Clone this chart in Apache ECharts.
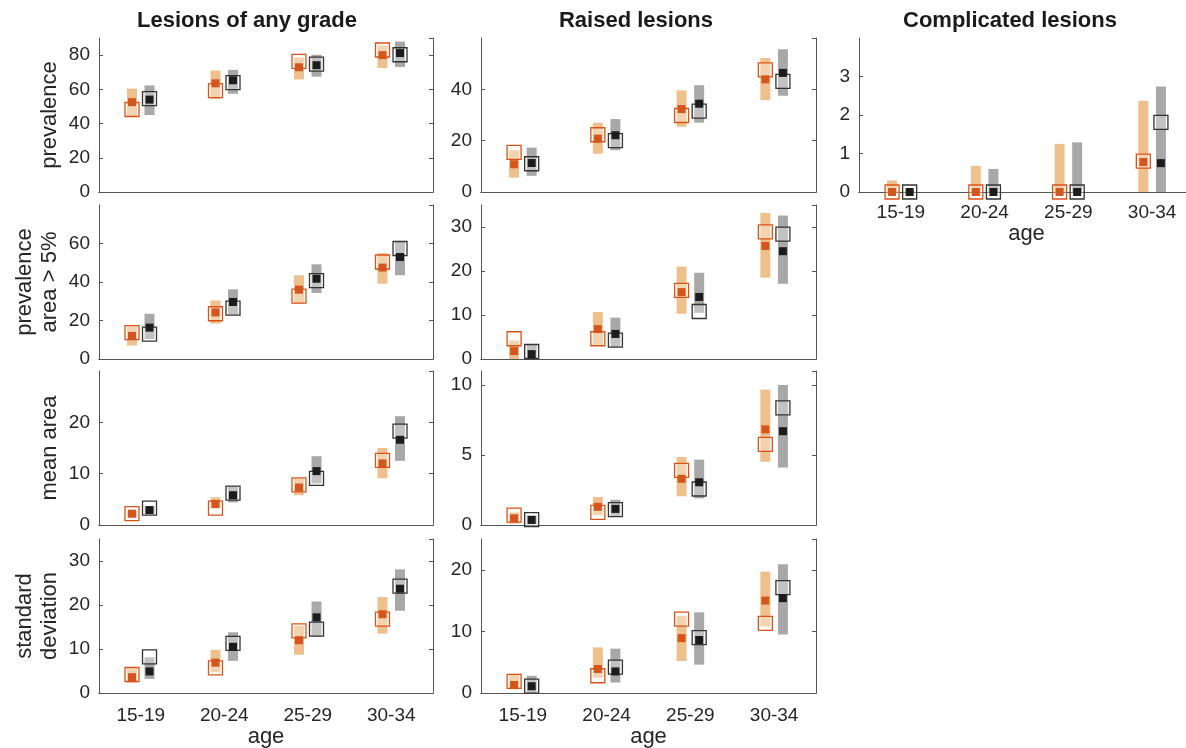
<!DOCTYPE html>
<html>
<head>
<meta charset="utf-8">
<script src="https://cdn.jsdelivr.net/npm/echarts@6/dist/echarts.min.js"></script>
<style>
html, body { margin: 0; padding: 0; background: #fff; }
#chart { width: 1186px; height: 748px; }
</style>
</head>
<body>
<div id="chart"></div>
<script>
const ages = ["15-19", "20-24", "25-29", "30-34"];

// each entry: [low, high, filled marker, open marker]
// A = orange group, B = black group
const anyPrevA = [[43.8, 60.4, 52.5, 48.2], [54.4, 71, 63.5, 59.2], [65.8, 78.6, 72.9, 76.3], [72.5, 85.7, 80, 83]];
const anyPrevB = [[45, 62.3, 54, 54.6], [57.4, 71.4, 65.3, 63.9], [67.4, 80.2, 74.1, 74.7], [73.1, 87.9, 81.2, 80.2]];
const raisedPrevA = [[5.6, 16.3, 10.8, 15.4], [14.9, 27, 20.8, 22.3], [25.4, 39.6, 32.3, 29.8], [35.8, 52.2, 43.9, 47.6]];
const raisedPrevB = [[6.3, 17.3, 11.3, 11], [16.3, 28.4, 22.1, 20], [27, 41.6, 34.4, 31.5], [37.5, 55.6, 46.4, 43.1]];
const compPrevA = [[0, 0.3, 0, 0], [0, 0.68, 0, 0], [0, 1.25, 0, 0], [0, 2.37, 0.78, 0.8]];
const compPrevB = [[0, 0.03, 0, 0], [0, 0.6, 0, 0], [0, 1.29, 0, 0], [0, 2.74, 0.75, 1.81]];
const anyArea5A = [[7, 16.9, 12, 13.7], [18.4, 30.4, 24.2, 23.5], [28.9, 43.5, 36, 32.7], [39.1, 55, 47.5, 50.4]];
const anyArea5B = [[10.4, 23.5, 16.3, 12.9], [23, 36.2, 29.6, 26.4], [34.3, 49.2, 41.7, 40.7], [43.5, 61.2, 53, 57.4]];
const raisedArea5A = [[0, 4.2, 1.8, 4.6], [3.2, 10.7, 6.8, 4.6], [10.3, 21, 15.2, 15.6], [18.5, 33.2, 25.7, 28.9]];
const raisedArea5B = [[0, 3.2, 1.1, 1.7], [2.7, 9.4, 5.7, 4.3], [10.5, 19.6, 14.1, 10.8], [17.1, 32.6, 24.5, 28.4]];
const anyMeanA = [[1.5, 2.7, 2.2, 2.2], [3.2, 5.4, 4.1, 3.3], [5.8, 9.1, 7.3, 7.8], [9.1, 15, 12, 12.6]];
const anyMeanB = [[2.2, 3.7, 2.9, 3.3], [4.4, 7.5, 5.8, 6.2], [8.1, 13.4, 10.5, 9.1], [12.5, 21.2, 16.6, 18.3]];
const raisedMeanA = [[0.1, 0.9, 0.48, 0.7], [0.7, 2, 1.3, 0.9], [2.05, 4.86, 3.3, 3.9], [4.52, 9.67, 6.83, 5.76]];
const raisedMeanB = [[0.05, 0.7, 0.36, 0.38], [0.65, 1.8, 1.15, 1.1], [1.9, 4.67, 3.05, 2.57], [4.1, 10, 6.7, 8.36]];
const anySdA = [[2.4, 5.6, 3.6, 4.2], [4.7, 9.8, 6.9, 5.7], [8.7, 15.3, 12, 14.1], [13.5, 21.8, 17.9, 16.8]];
const anySdB = [[3.2, 8.1, 4.9, 8.2], [7.3, 13.8, 10.5, 11.3], [12.8, 20.8, 17.2, 14.5], [18.7, 28.1, 23.7, 24.3]];
const raisedSdA = [[0.6, 3.1, 1.3, 1.9], [2.5, 7.4, 3.9, 2.8], [5.2, 12.5, 8.9, 12], [10.8, 19.7, 15, 11.3]];
const raisedSdB = [[0, 2.8, 1.1, 1.1], [1.7, 7.2, 3.5, 4.2], [4.6, 13.1, 8.6, 9], [9.5, 20.9, 15.4, 17.1]];

const columnTitles = ["Lesions of any grade", "Raised lesions", "Complicated lesions"];

const panels = [
  { col: 0, row: 0, a: anyPrevA, b: anyPrevB, max: 90, interval: 20, name: "prevalence" },
  { col: 0, row: 1, a: anyArea5A, b: anyArea5B, max: 80, interval: 20, name: "prevalence\narea > 5%" },
  { col: 0, row: 2, a: anyMeanA, b: anyMeanB, max: 30, interval: 10, name: "mean area" },
  { col: 0, row: 3, a: anySdA, b: anySdB, max: 35, interval: 10, name: "standard\ndeviation" },
  { col: 1, row: 0, a: raisedPrevA, b: raisedPrevB, max: 60, interval: 20 },
  { col: 1, row: 1, a: raisedArea5A, b: raisedArea5B, max: 35, interval: 10 },
  { col: 1, row: 2, a: raisedMeanA, b: raisedMeanB, max: 11, interval: 5 },
  { col: 1, row: 3, a: raisedSdA, b: raisedSdB, max: 25, interval: 10 },
  { col: 2, row: 0, a: compPrevA, b: compPrevB, max: 4, interval: 1 },
];

const colLeft = [99, 481, 859];
const colWidth = [334, 335, 335];
const rowTop = [38, 205, 371, 539];
const rowHeight = 154;
const titleX = [247, 636, 1010];

const fontFamily = '"Liberation Sans", Arial, Helvetica, sans-serif';
const axisColor = "#555";
const textColor = "#262626";

function renderGroup(shift, barColor, dotColor, boxColor) {
  return function (params, api) {
    const i = api.value(0);
    const lo = api.coord([i, api.value(1)]);
    const hi = api.coord([i, api.value(2)]);
    const mid = api.coord([i, api.value(3)]);
    const est = api.coord([i, api.value(4)]);
    const x = lo[0] + shift * api.size([1, 0])[0];
    return {
      type: "group",
      children: [
        { type: "rect", shape: { x: x - 5, y: hi[1], width: 10, height: lo[1] - hi[1] }, style: { fill: barColor } },
        { type: "rect", shape: { x: x - 7, y: est[1] - 7, width: 14, height: 14 },
          style: { fill: "rgba(255,255,255,0.3)", stroke: boxColor, lineWidth: 1.3 } },
        { type: "rect", shape: { x: x - 4, y: mid[1] - 4, width: 8, height: 8 }, style: { fill: dotColor } },
      ],
    };
  };
}

const toItems = (arr) => arr.map((d, i) => [i, d[0], d[1], d[2], d[3]]);

let grid = [], xAxis = [], yAxis = [], series = [];

panels.forEach((p, k) => {
  const bottom = p.row === 3 || p.col === 2;
  // the last column runs past the right edge of the picture
  grid.push({
    left: colLeft[p.col], top: rowTop[p.row], width: colWidth[p.col], height: rowHeight,
    outerBoundsMode: "none", containLabel: false,
    show: true, borderWidth: 0, backgroundColor: "#fff",
  });
  xAxis.push({
    type: "category", data: ages, gridIndex: k, boundaryGap: true, position: "bottom",
    axisLine: { lineStyle: { color: axisColor } },
    axisTick: { inside: true, length: 4, lineStyle: { color: axisColor } },
    axisLabel: { show: bottom, color: textColor, fontSize: 19, fontFamily: fontFamily, margin: p.col === 2 ? 11 : 13 },
    name: bottom ? "age" : "", nameLocation: "middle", nameGap: p.col === 2 ? 27 : 33,
    nameTextStyle: { color: textColor, fontSize: 22, fontFamily: fontFamily },
    splitLine: { show: false },
  });
  xAxis.push({
    type: "category", data: ages, gridIndex: k, boundaryGap: true, position: "top",
    axisLine: { lineStyle: { color: axisColor } },
    axisTick: { inside: true, length: 4, lineStyle: { color: axisColor } },
    axisLabel: { show: false }, splitLine: { show: false },
  });
  yAxis.push({
    type: "value", gridIndex: k, min: 0, max: p.max, interval: p.interval, position: "left",
    axisLine: { show: true, lineStyle: { color: axisColor } },
    axisTick: { show: true, inside: true, length: 4, lineStyle: { color: axisColor } },
    axisLabel: { color: textColor, fontSize: 19, fontFamily: fontFamily, margin: 9, showMaxLabel: false },
    splitLine: { show: false },
    name: p.name || "", nameLocation: "middle", nameGap: 37,
    nameTextStyle: { color: textColor, fontSize: 22, fontFamily: fontFamily, lineHeight: 25 },
  });
  yAxis.push({
    type: "value", gridIndex: k, min: 0, max: p.max, interval: p.interval, position: "right",
    axisLine: { show: true, lineStyle: { color: axisColor } },
    axisTick: { show: true, inside: true, length: 4, lineStyle: { color: axisColor } },
    axisLabel: { show: false }, splitLine: { show: false },
  });
  series.push({
    type: "custom", xAxisIndex: 2 * k, yAxisIndex: 2 * k,
    renderItem: renderGroup(-0.105, "#EDC08E", "#D4561C", "#D95319"),
    encode: { x: 0, y: [1, 2, 3, 4] }, data: toItems(p.a), z: 5,
  });
  series.push({
    type: "custom", xAxisIndex: 2 * k, yAxisIndex: 2 * k,
    renderItem: renderGroup(0.105, "#A8A8A8", "#1C1C1C", "#333333"),
    encode: { x: 0, y: [1, 2, 3, 4] }, data: toItems(p.b), z: 5,
  });
});

const chart = echarts.init(document.getElementById("chart"));
chart.setOption({
  animation: false,
  backgroundColor: "#fff",
  grid: grid,
  xAxis: xAxis,
  yAxis: yAxis,
  series: series,
  graphic: columnTitles.map((t, i) => ({
    type: "text", x: titleX[i], y: 21,
    style: { text: t, fontSize: 22, fontWeight: "bold", fontFamily: fontFamily,
             fill: "#1a1a1a", align: "center", verticalAlign: "middle" },
  })),
});
window.addEventListener("resize", () => {
  chart.resize();
});
</script>
</body>
</html>
